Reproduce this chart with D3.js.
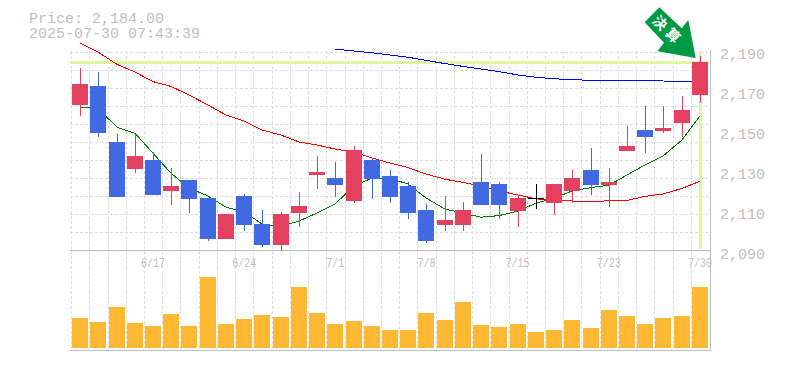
<!DOCTYPE html>
<html lang="en">
<head>
	<meta charset="UTF-8">
	<title>Chart</title>
	<style>
		body { margin: 0; background: #fff; }
		svg { display: block; }
		.mono { font-family: "Liberation Mono", monospace; fill: #c0c0c0; }
	</style>
</head>
<body>
	<script src="https://cdn.jsdelivr.net/npm/d3@7/dist/d3.min.js"></script>
	<script>
		var dates = ["6/11","6/12","6/13","6/16","6/17","6/18","6/19","6/20","6/23","6/24","6/25","6/26","6/27","6/30","7/1","7/2","7/3","7/4","7/7","7/8","7/9","7/10","7/11","7/14","7/15","7/16","7/17","7/18","7/22","7/23","7/24","7/25","7/28","7/29","7/30"];
		var dateLabels = ["6/17","6/24","7/1","7/8","7/15","7/23","7/30"];
		var priceLabels = [2090,2110,2130,2150,2170,2190];
		var gridPrices = [2090,2099,2108,2117,2126,2135,2144,2153,2162,2171,2180,2189];

		var opens = [2162.5,2172,2144,2130.5,2135,2119.5,2125,2116,2095.5,2117,2103,2092.5,2108.5,2127.5,2126,2114.5,2135,2127,2122,2110,2102.5,2102.5,2124,2123,2109.5,2116,2113.5,2119.5,2130,2122.5,2139.5,2150,2149.5,2153.5,2167.5];
		var closes = [2173,2148.5,2116.5,2137,2117.5,2122,2115.5,2095.5,2108,2102.5,2092.5,2108,2112,2129,2122.5,2140,2125.5,2116.5,2108.5,2094.5,2105,2110,2112.5,2112.5,2116,2116,2123,2126,2122.5,2124,2142,2146.5,2151,2160,2184];
		var highs = [2181,2179,2148,2148,2139,2131,2125,2116,2108,2118,2110,2109,2119,2137,2134,2142,2136,2130,2124,2113,2117,2114,2138,2124,2117,2123,2123,2130,2141,2131,2152,2162,2162,2167,2187];
		var lows = [2157,2146.5,2116.5,2128.5,2117.5,2112.5,2108.5,2094.5,2095.5,2099.5,2091.5,2089.5,2101.5,2120.5,2116.5,2113.5,2115.5,2113.5,2105.5,2093.5,2099.5,2099.5,2112.5,2105.5,2101.5,2110.5,2107.5,2113.5,2117.5,2111.5,2139.5,2138.5,2148.5,2146.5,2163.5];
		var volumes = [30,26,41,25,22,34,22,71,24,29,33,31,61,35,24,27,22,18,18,35,28,46,23,21,24,16,18,28,20,38,32,24,30,32,61];

		var maShort = [2161.4,2160.8,2151.4,2148.4,2138.4,2128.4,2121,2117,2111.4,2109.2,2103,2101.8,2104.5,2108.5,2113,2122,2126,2125.8,2123,2116,2110.5,2108.4,2106.4,2107.2,2109.5,2113.4,2115.9,2119.5,2121.2,2122.4,2127.5,2132.5,2137,2145,2157];
		var maMid = [2193.4,2189,2182.8,2179,2174.2,2171.8,2167.5,2162.5,2157.5,2154.5,2150,2147.5,2144,2142.5,2140.5,2139,2136,2133.5,2131.2,2128,2125.4,2123.8,2122,2119.5,2117.5,2115.6,2114.6,2114.5,2114.2,2114.6,2114.8,2116.8,2118,2120.8,2124.4];
		var maLong = [null,null,null,null,null,null,null,null,null,null,null,null,null,null,2190.4,2189.5,2188.6,2187.5,2186.4,2184.8,2183.2,2181.8,2180.5,2179.2,2177.5,2176.4,2175.6,2175.2,2174.8,2174.5,2174.6,2174.6,2174.5,2174.4,2174.2];

		var lastPrice = 2184;
		var priceText = "Price: 2,184.00";
		var timeText = "2025-07-30 07:43:39";
		var signalText = ["決","算"];

		var width = 785,
			height = 370,
			left = 71,
			right = 709,
			priceTop = 50,
			priceBottom = 250,
			volumeBottom = 348,
			panelBottom = 350;

		var svg = d3.select("body")
			.append("svg")
			.attr("width", width)
			.attr("height", height);

		var x = d3.scaleBand()
			.domain(dates)
			.range([left, right])
			.paddingInner(0.12)
			.paddingOuter(0.06);
		var y = d3.scaleLinear().domain([2090, 2190]).range([priceBottom, priceTop]);
		var yVol = d3.scaleLinear().domain([0, 100]).range([volumeBottom, volumeBottom - 100]);

		function cx(i) {
			return Math.round(x(dates[i]) + x.bandwidth() / 2);
		}

		// grid
		var grid = svg.append("g")
			.attr("stroke", "#ddd")
			.attr("stroke-dasharray", "3,2")
			.attr("shape-rendering", "crispEdges");
		grid.selectAll("line.h")
			.data(gridPrices.slice(1))
			.enter().append("line")
			.attr("x1", left - 1).attr("x2", right)
			.attr("y1", function(d) { return Math.round(y(d)) + 0.5; })
			.attr("y2", function(d) { return Math.round(y(d)) + 0.5; });
		grid.selectAll("line.v")
			.data(dates)
			.enter().append("line")
			.attr("x1", function(d) { return Math.round(x(d)) - 0.5; })
			.attr("x2", function(d) { return Math.round(x(d)) - 0.5; })
			.attr("y1", priceTop + 1).attr("y2", panelBottom);

		// panel frame
		var frame = svg.append("g")
			.attr("stroke", "#bbb")
			.attr("shape-rendering", "crispEdges");
		frame.append("line").attr("x1", left - 1).attr("x2", right + 2).attr("y1", priceBottom + 0.5).attr("y2", priceBottom + 0.5);
		frame.append("line").attr("x1", left - 1).attr("x2", right + 2).attr("y1", panelBottom + 0.5).attr("y2", panelBottom + 0.5);
		frame.append("line").attr("x1", right + 1.5).attr("x2", right + 1.5).attr("y1", priceTop).attr("y2", panelBottom);

		// last price highlight
		var mark = svg.append("g").attr("fill", "#e0f5a0").attr("shape-rendering", "crispEdges");
		mark.append("rect")
			.attr("x", left - 1).attr("width", right - left + 1)
			.attr("y", Math.round(y(lastPrice)) - 1).attr("height", 3);
		mark.append("rect")
			.attr("x", cx(34) - 1).attr("width", 3)
			.attr("y", priceTop + 1).attr("height", priceBottom - priceTop - 2);

		// volume
		svg.append("g").selectAll("rect")
			.data(volumes)
			.enter().append("rect")
			.attr("shape-rendering", "crispEdges")
			.attr("x", function(d, i) { return cx(i) - 8; })
			.attr("width", 16)
			.attr("y", function(d) { return yVol(d); })
			.attr("height", function(d) { return yVol(0) - yVol(d); })
			.attr("fill", "#ffb833");

		// moving averages
		function drawLine(values, color) {
			var line = d3.line()
				.defined(function(d) { return d !== null; })
				.x(function(d, i) { return cx(i); })
				.y(function(d) { return y(d); });
			svg.append("path")
				.attr("d", line(values))
				.attr("fill", "none")
				.attr("stroke", color)
				.attr("stroke-width", 1)
				.attr("shape-rendering", "crispEdges");
		}
		drawLine(maShort, "#008000");
		drawLine(maMid, "#ff0000");
		drawLine(maLong, "#0000ff");

		// candles
		function candleColor(i) {
			if (Math.abs(closes[i] - opens[i]) < 0.5) return "#000";
			return closes[i] > opens[i] ? "#e3415f" : "#4169e1";
		}
		var candles = svg.append("g").attr("shape-rendering", "crispEdges");
		dates.forEach(function(d, i) {
			candles.append("rect")
				.attr("x", cx(i)).attr("width", 1)
				.attr("y", y(highs[i])).attr("height", y(lows[i]) - y(highs[i]))
				.attr("fill", candleColor(i));
			var top = y(Math.max(opens[i], closes[i])),
				bottom = y(Math.min(opens[i], closes[i]));
			candles.append("rect")
				.attr("x", cx(i) - 8).attr("width", 16)
				.attr("y", top).attr("height", Math.max(bottom - top, 1))
				.attr("fill", candleColor(i));
		});

		// axes
		var yAxis = d3.axisRight(y).tickValues(priceLabels).tickSize(0).tickFormat(d3.format(","));
		var yg = svg.append("g")
			.attr("class", "mono")
			.attr("transform", "translate(717,0)")
			.call(yAxis);
		yg.select(".domain").remove();
		yg.selectAll("text")
			.attr("class", "mono")
			.attr("x", 3)
			.attr("dy", 8)
			.attr("font-size", 15);

		var xAxis = d3.axisBottom(x).tickValues(dateLabels).tickSize(0);
		var xg = svg.append("g")
			.attr("transform", "translate(0," + priceBottom + ")")
			.call(xAxis);
		xg.select(".domain").remove();
		xg.selectAll("text")
			.attr("class", "mono")
			.attr("y", 17)
			.attr("dy", 0)
			.attr("font-size", 12)
			.attr("text-anchor", "middle")
			.attr("textLength", function(d) { return d.length * 6; })
			.attr("lengthAdjust", "spacingAndGlyphs");

		// title lines
		svg.append("text").attr("class", "mono").attr("x", 29).attr("y", 23).attr("font-size", 15).text(priceText);
		svg.append("text").attr("class", "mono").attr("x", 29).attr("y", 38).attr("font-size", 15).text(timeText);

		// signal arrow, points relative to its tip on the last candle
		var arrow = svg.append("g")
			.attr("transform", "translate(" + (cx(34) - 4.3) + "," + (y(lastPrice) - 4) + ")");
		arrow.append("polygon")
			.attr("points", "-36.4,-50.7 -51,-35.7 -31.7,-15.3 -38.4,-6.7 0,0 -7.4,-38 -14,-29.7")
			.attr("fill", "#009944");
		arrow.selectAll("text")
			.data(signalText)
			.enter().append("text")
			.attr("transform", function(d, i) {
				return "translate(" + (-35.7 + i * 13) + "," + (-35 + i * 12.5) + ") rotate(45)";
			})
			.attr("text-anchor", "middle")
			.attr("dy", 5)
			.attr("font-family", "Noto Sans CJK JP")
			.attr("font-weight", "bold")
			.attr("font-size", 14)
			.attr("fill", "#fff")
			.text(function(d) { return d; });
	</script>
</body>
</html>
